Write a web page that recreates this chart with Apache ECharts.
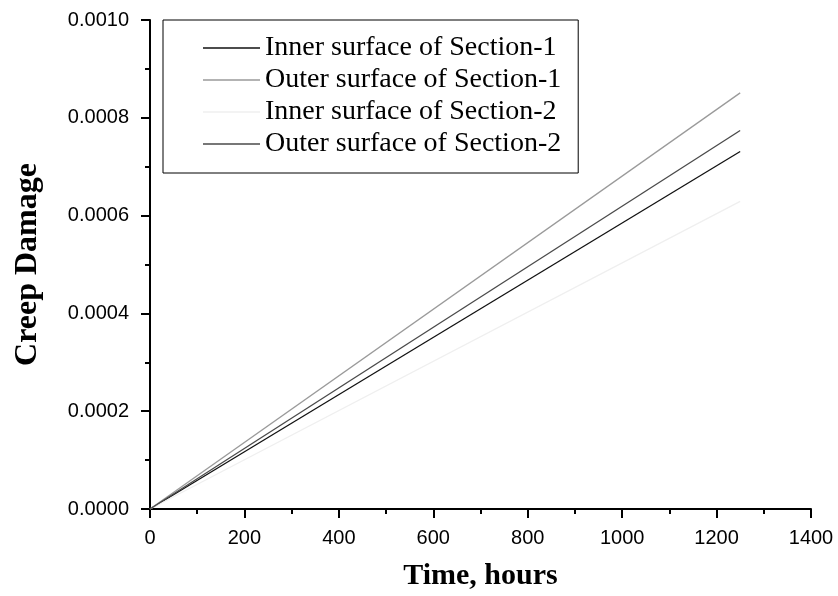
<!DOCTYPE html>
<html>
<head>
<meta charset="utf-8">
<script src="https://cdn.jsdelivr.net/npm/echarts@6/dist/echarts.min.js"></script>
<style>
html, body { margin: 0; padding: 0; background: #fff; }
#main { width: 838px; height: 596px; }
</style>
</head>
<body>
<div id="main"></div>
<script>
// data
var hours = [0, 1250];
var innerSec1 = [0, 0.000731];
var outerSec1 = [0, 0.000851];
var innerSec2 = [0, 0.000629];
var outerSec2 = [0, 0.000774];
var seriesNames = ['Inner surface of Section-1', 'Outer surface of Section-1',
                   'Inner surface of Section-2', 'Outer surface of Section-2'];

function pairs(ys) {
    var out = [];
    for (var i = 0; i < hours.length; i++) out.push([hours[i], ys[i]]);
    return out;
}

var myChart = echarts.init(document.getElementById('main'));

function lineSeries(name, ys, color) {
    return {
        name: name,
        type: 'line',
        data: pairs(ys),
        symbol: 'none',
        lineStyle: { color: color, width: 1.3 },
        itemStyle: { color: color }
    };
}

var option = {
    backgroundColor: '#fff',
    animation: false,
    grid: { left: 150, right: 27, top: 20, bottom: 85 },
    legend: {
        orient: 'vertical',
        left: 163,
        top: 20,
        padding: [14, 17, 15, 40],
        icon: 'rect',
        itemWidth: 57,
        itemHeight: 1.3,
        itemGap: 4,
        borderColor: '#000',
        borderWidth: 1,
        backgroundColor: '#fff',
        textStyle: {
            fontFamily: 'Liberation Serif',
            fontSize: 28,
            lineHeight: 28,
            color: '#000'
        },
        data: seriesNames
    },
    xAxis: {
        type: 'value',
        min: 0,
        max: 1400,
        interval: 200,
        name: 'Time, hours',
        nameLocation: 'middle',
        nameGap: 52,
        nameTextStyle: { fontFamily: 'Liberation Serif', fontWeight: 'bold', fontSize: 30, color: '#000' },
        axisLine: { lineStyle: { color: '#000', width: 2 } },
        axisTick: { show: true, length: 9, lineStyle: { color: '#000', width: 2 } },
        minorTick: { show: true, splitNumber: 2, length: 5, lineStyle: { color: '#000', width: 2 } },
        splitLine: { show: false },
        axisLabel: {
            fontFamily: 'Liberation Sans', fontSize: 20, color: '#000', margin: 19,
            formatter: function (v) { return String(v); }
        }
    },
    yAxis: {
        type: 'value',
        min: 0,
        max: 0.001,
        interval: 0.0002,
        name: 'Creep Damage',
        nameLocation: 'middle',
        nameGap: 106,
        nameTextStyle: { fontFamily: 'Liberation Serif', fontWeight: 'bold', fontSize: 32, color: '#000' },
        axisLine: { show: true, lineStyle: { color: '#000', width: 2 } },
        axisTick: { show: true, length: 9, lineStyle: { color: '#000', width: 2 } },
        minorTick: { show: true, splitNumber: 2, length: 5, lineStyle: { color: '#000', width: 2 } },
        splitLine: { show: false },
        axisLabel: {
            fontFamily: 'Liberation Sans', fontSize: 20, color: '#000', margin: 21,
            formatter: function (v) { return v.toFixed(4); }
        }
    },
    series: [
        lineSeries(seriesNames[0], innerSec1, '#111'),
        lineSeries(seriesNames[1], outerSec1, '#9a9a9a'),
        lineSeries(seriesNames[2], innerSec2, '#efefef'),
        lineSeries(seriesNames[3], outerSec2, '#4a4a4a')
    ]
};

myChart.setOption(option);
</script>
</body>
</html>
